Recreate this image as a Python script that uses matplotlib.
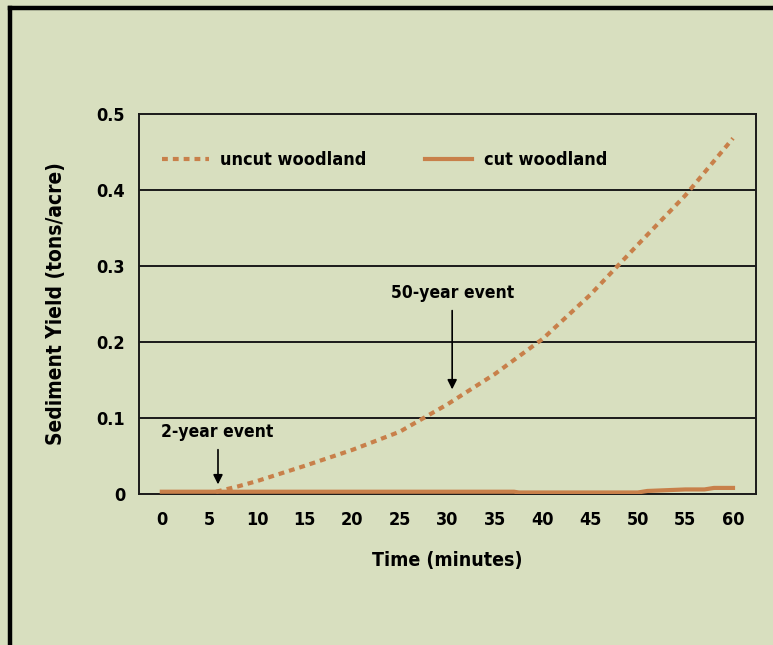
import matplotlib
matplotlib.use("Agg")
import matplotlib.pyplot as plt
from matplotlib.lines import Line2D

plt.rcParams['font.family'] = ['DejaVu Sans']
plt.rcParams['font.stretch'] = 'condensed'
plt.rcParams['font.weight'] = 'bold'

# --- data ---
uncut_t = [5.7, 8, 10, 12, 15, 20, 25, 30, 35, 40, 45, 50, 55, 60]
uncut_y = [0.003, 0.010, 0.017, 0.025, 0.037, 0.058, 0.082, 0.118, 0.158, 0.204, 0.262, 0.328, 0.393, 0.468]

cut_t = [0, 37, 37.5, 50, 51, 53, 55, 57, 58, 60]
cut_y = [0.003, 0.003, 0.002, 0.002, 0.004, 0.005, 0.006, 0.006, 0.008, 0.008]

x_ticks = list(range(0, 61, 5))
y_ticks = [0, 0.1, 0.2, 0.3, 0.4, 0.5]
y_labels = ['0', '0.1', '0.2', '0.3', '0.4', '0.5']

BG = '#d8dfbf'
ORANGE = '#c8804a'

fig = plt.figure(figsize=(7.73, 6.45), dpi=100, facecolor=BG)
ax = fig.add_axes([0.1798, 0.2341, 0.798, 0.5892], facecolor=BG)

ax.plot(uncut_t, uncut_y, color=ORANGE, lw=3.0, dashes=(1.4, 1.2),
        solid_capstyle='butt', dash_capstyle='butt', label='uncut woodland', zorder=3)
ax.plot(cut_t, cut_y, color=ORANGE, lw=3.0, label='cut woodland', zorder=3)

ax.set_xlim(-2.4, 62.4)
ax.set_ylim(0, 0.5)
ax.set_xticks(x_ticks)
ax.set_yticks(y_ticks)
ax.set_yticklabels(y_labels)
ax.tick_params(length=0, labelsize=13, colors='black')
ax.tick_params(axis='x', pad=12)
ax.tick_params(axis='y', pad=10)

for y in y_ticks[1:-1]:
    ax.axhline(y, color='#1a1a1a', lw=1.4, zorder=1)
for s in ax.spines.values():
    s.set_color('#1a1a1a')
    s.set_linewidth(1.4)

ax.set_xlabel('Time (minutes)', fontsize=14, fontweight='bold', labelpad=16)
ax.set_ylabel('Sediment Yield (tons/acre)', fontsize=15, fontweight='bold', labelpad=22)

ax.legend(loc='center left', bbox_to_anchor=(0.025, 0.879), ncol=2, frameon=False,
          fontsize=13, handlelength=2.6, handletextpad=0.66, columnspacing=3.2,
          borderaxespad=0)

# annotations
ax.text(5.8, 0.0816, '2-year event', ha='center', va='center', fontsize=12.5)
ax.annotate('', xy=(5.9, 0.009), xytext=(5.9, 0.062),
            arrowprops=dict(arrowstyle='-|>', color='black', lw=1.2, mutation_scale=14))
ax.text(30.5, 0.264, '50-year event', ha='center', va='center', fontsize=12.5)
ax.annotate('', xy=(30.5, 0.134), xytext=(30.5, 0.245),
            arrowprops=dict(arrowstyle='-|>', color='black', lw=1.2, mutation_scale=14))

# outer frame (left and top only)
fig.add_artist(Line2D([9.5 / 773, 9.5 / 773], [0, 1 - 7.5 / 645], transform=fig.transFigure,
                      color='black', lw=3.2, solid_capstyle='projecting'))
fig.add_artist(Line2D([9.5 / 773, 1], [1 - 7.5 / 645, 1 - 7.5 / 645], transform=fig.transFigure,
                      color='black', lw=3.2, solid_capstyle='projecting'))

fig.savefig('out.png', dpi=100, facecolor=BG)
